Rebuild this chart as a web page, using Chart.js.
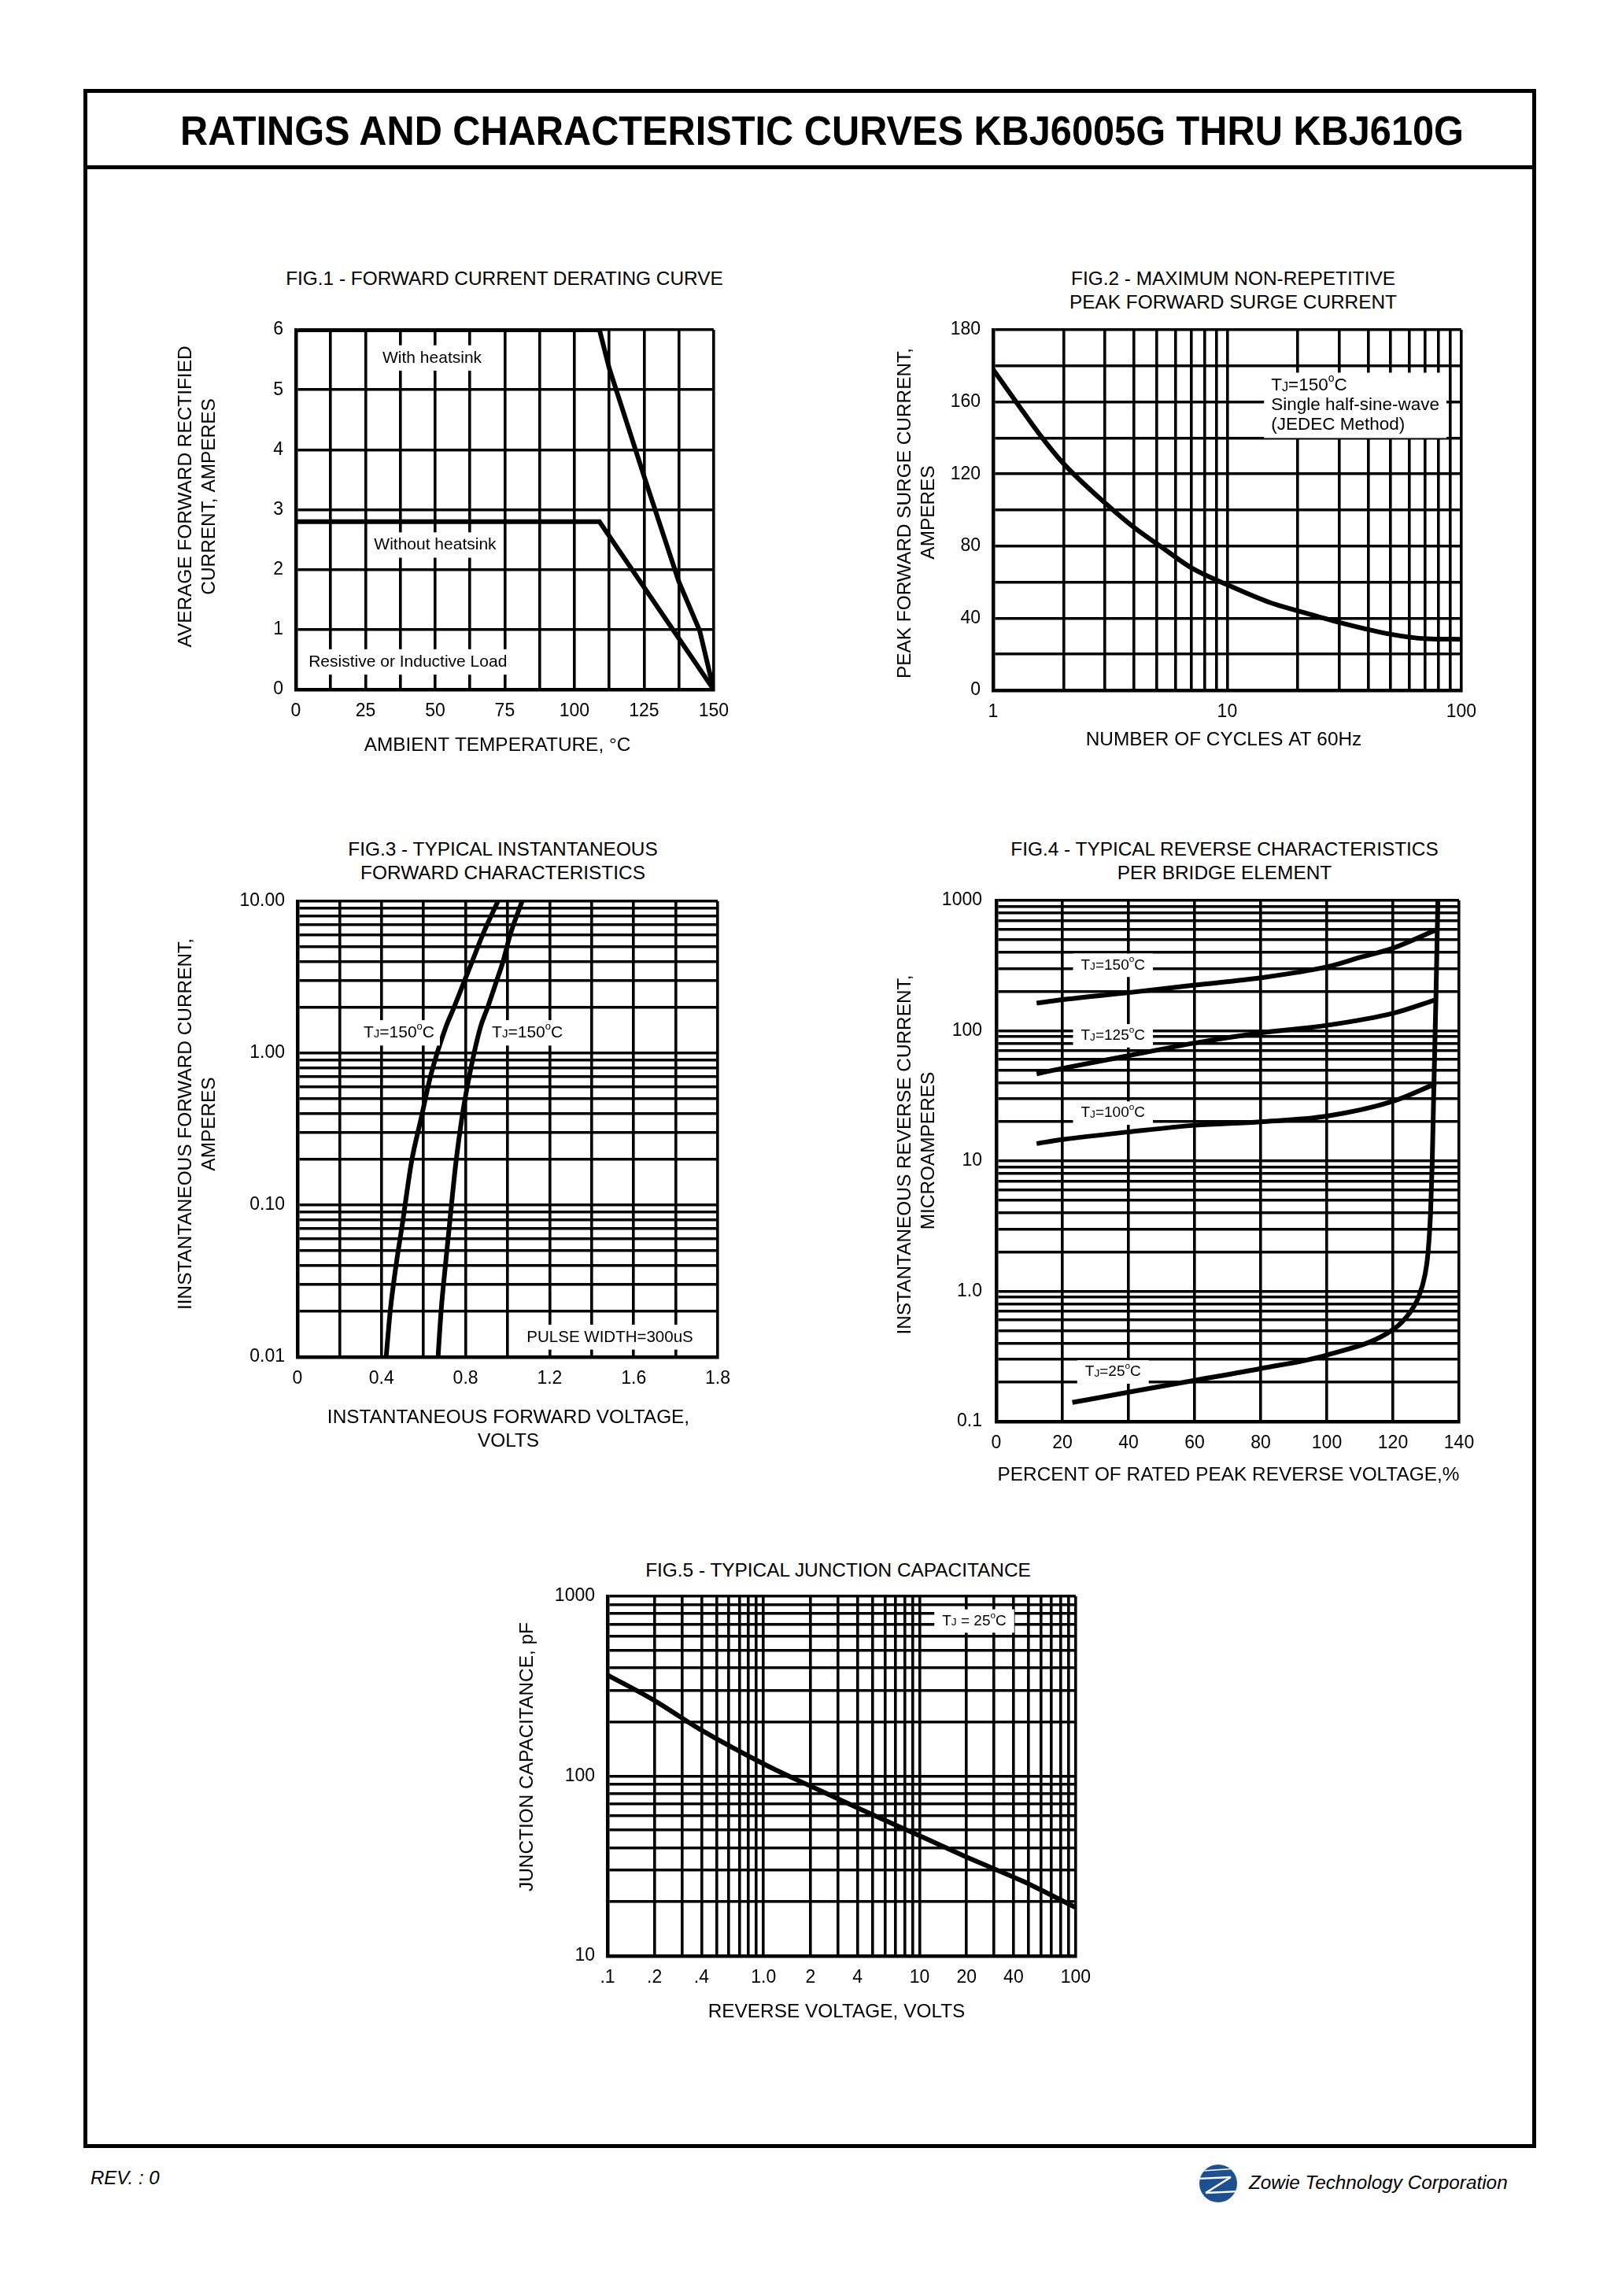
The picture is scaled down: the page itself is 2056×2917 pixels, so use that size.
<!DOCTYPE html>
<html>
<head>
<meta charset="utf-8">
<script src="https://cdn.jsdelivr.net/npm/chart.js@4.4.1/dist/chart.umd.min.js"></script>
<style>
html,body{margin:0;padding:0;background:#fff;}
body{width:2056px;height:2917px;position:relative;overflow:hidden;font-family:"Liberation Sans",Arial,Helvetica,sans-serif;color:#000;}
.abs{position:absolute;}
.frame{left:106px;top:113px;width:1846px;height:2616px;border:5px solid #000;box-sizing:border-box;}
.divider{left:106px;top:210px;width:1846px;height:5px;background:#000;}
.ftitle{font-size:24.4px;line-height:30px;text-align:center;white-space:nowrap;transform:translateX(-50%);}
#mainTitle{font-weight:bold;font-size:52px;line-height:60px;white-space:nowrap;transform-origin:0 50%;}
.foot{font-style:italic;white-space:nowrap;}
canvas{position:absolute;}
</style>
</head>
<body>
<div class="abs frame"></div>
<div class="abs divider"></div>
<div id="mainTitle" class="abs">RATINGS AND CHARACTERISTIC CURVES KBJ6005G THRU KBJ610G</div>

<div class="abs ftitle" style="left:641px;top:339px;">FIG.1 - FORWARD CURRENT DERATING CURVE</div>
<div class="abs ftitle" style="left:1567px;top:339px;">FIG.2 - MAXIMUM NON-REPETITIVE<br>PEAK FORWARD SURGE CURRENT</div>
<div class="abs ftitle" style="left:639px;top:1064px;">FIG.3 - TYPICAL INSTANTANEOUS<br>FORWARD CHARACTERISTICS</div>
<div class="abs ftitle" style="left:1556px;top:1064px;">FIG.4 - TYPICAL REVERSE CHARACTERISTICS<br>PER BRIDGE ELEMENT</div>
<div class="abs ftitle" style="left:1065px;top:1980px;">FIG.5 - TYPICAL JUNCTION CAPACITANCE</div>

<div class="abs foot" style="left:115px;top:2753px;font-size:24px;">REV. : 0</div>
<svg class="abs" style="left:1522px;top:2748px;" width="52" height="52" viewBox="-26 -26 52 52">
  <defs><clipPath id="lc"><circle cx="0" cy="0" r="24"/></clipPath></defs>
  <circle cx="0" cy="0" r="24" fill="#1d4f91"/>
  <g clip-path="url(#lc)" stroke="#fff" fill="none">
    <line x1="-20" y1="-16" x2="24" y2="-19" stroke-width="1.6"/>
    <line x1="-26" y1="-6" x2="16" y2="-8" stroke-width="2.4"/>
    <line x1="16" y1="-8" x2="-16" y2="12" stroke-width="2.6"/>
    <line x1="-16" y1="12" x2="26" y2="10" stroke-width="2.4"/>
  </g>
</svg>
<div class="abs foot" style="left:1587px;top:2759px;font-size:24.3px;">Zowie Technology Corporation</div>

<script>
// ---------------- DATA ----------------
// Fig.1 forward current derating
const fig1TempWith = [0, 109, 112.5, 125, 137.5, 145, 150];
const fig1AmpsWith = [6, 6, 5.36, 3.56, 1.8, 0.98, 0];
const fig1TempWithout = [0, 109, 150];
const fig1AmpsWithout = [2.8, 2.8, 0];
const fig1XTicks = [0, 12.5, 25, 37.5, 50, 62.5, 75, 87.5, 100, 112.5, 125, 137.5, 150];
const fig1XLabelVals = [0, 25, 50, 75, 100, 125, 150];
const fig1XLabelTexts = ['0', '25', '50', '75', '100', '125', '150'];
const fig1YTicks = [0, 1, 2, 3, 4, 5, 6];
const fig1YLabelVals = [0, 1, 2, 3, 4, 5, 6];
const fig1YLabelTexts = ['0', '1', '2', '3', '4', '5', '6'];

// Fig.2 peak forward surge current
const fig2Cycles = [1, 1.27, 1.6, 2, 3, 4, 5.25, 7.1, 10, 15.3, 20, 30, 48.5, 71, 100];
const fig2Surge = [178, 159, 141, 125.7, 104, 90.3, 79.4, 67.6, 58.6, 48.6, 44.1, 37.7, 31.4, 28.6, 28.3];
const fig2XTicks = [1, 2, 3, 4, 5, 6, 7, 8, 9, 10, 20, 30, 40, 50, 60, 70, 80, 90, 100];
const fig2XLabelVals = [1, 10, 100];
const fig2XLabelTexts = ['1', '10', '100'];
const fig2YTicks = [0, 20, 40, 60, 80, 100, 120, 140, 160, 180, 200];
const fig2YLabelVals = [0, 40, 80, 120, 160, 200];
const fig2YLabelTexts = ['0', '40', '80', '120', '160', '180'];

// Fig.3 forward characteristics
const fig3AmpsA = [0.01, 0.0204, 0.04, 0.078, 0.19, 0.37, 0.72, 1.47, 2, 3, 4, 6, 10];
const fig3VoltsA = [0.422, 0.442, 0.469, 0.501, 0.542, 0.588, 0.635, 0.705, 0.745, 0.795, 0.831, 0.881, 0.954];
const fig3AmpsB = [0.01, 0.0204, 0.04, 0.078, 0.19, 0.37, 0.72, 1.47, 2, 3, 4, 6, 10];
const fig3VoltsB = [0.669, 0.684, 0.704, 0.725, 0.754, 0.782, 0.819, 0.870, 0.905, 0.948, 0.978, 1.012, 1.069];
const fig3XTicks = [0, 0.2, 0.4, 0.6, 0.8, 1.0, 1.2, 1.4, 1.6, 1.8, 2.0];
const fig3XLabelVals = [0, 0.4, 0.8, 1.2, 1.6, 2.0];
const fig3XLabelTexts = ['0', '0.4', '0.8', '1.2', '1.6', '1.8'];
const fig3YTicks = [0.01, 0.02, 0.03, 0.04, 0.05, 0.06, 0.07, 0.08, 0.09,
                    0.1, 0.2, 0.3, 0.4, 0.5, 0.6, 0.7, 0.8, 0.9,
                    1, 2, 3, 4, 5, 6, 7, 8, 9, 10];
const fig3YLabelVals = [0.01, 0.1, 1, 10];
const fig3YLabelTexts = ['0.01', '0.10', '1.00', '10.00'];

// Fig.4 reverse characteristics
const fig4Pct150 = [12.2, 20, 40, 60, 80, 100, 110, 120, 133];
const fig4Ir150 = [163, 173, 196, 224, 255, 309, 365, 430, 593];
const fig4Pct125 = [12.2, 20, 40, 60, 80, 100, 120, 133];
const fig4Ir125 = [46.7, 51.4, 64.3, 80.5, 96.3, 110, 136, 173];
const fig4Pct100 = [12.2, 20, 40, 60, 80, 100, 120, 133];
const fig4Ir100 = [13.6, 14.6, 16.7, 18.8, 20.0, 22.1, 28.7, 39.3];
const fig4Pct25 = [23, 40, 60, 80, 100, 120, 125, 127.9, 129.7, 130.6, 131.4, 131.9, 132.4, 133, 133.6];
const fig4Ir25 = [0.14, 0.168, 0.207, 0.255, 0.324, 0.507, 0.68, 0.92, 1.34, 1.95, 4.1, 10, 38.7, 173, 1000];
const fig4XTicks = [0, 20, 40, 60, 80, 100, 120, 140];
const fig4XLabelVals = [0, 20, 40, 60, 80, 100, 120, 140];
const fig4XLabelTexts = ['0', '20', '40', '60', '80', '100', '120', '140'];
const fig4YTicks = [0.1, 0.2, 0.3, 0.4, 0.5, 0.6, 0.7, 0.8, 0.9,
                    1, 2, 3, 4, 5, 6, 7, 8, 9,
                    10, 20, 30, 40, 50, 60, 70, 80, 90,
                    100, 200, 300, 400, 500, 600, 700, 800, 900, 1000];
const fig4YLabelVals = [0.1, 1, 10, 100, 1000];
const fig4YLabelTexts = ['0.1', '1.0', '10', '100', '1000'];

// Fig.5 junction capacitance
const fig5Volts = [0.1, 0.2, 0.4, 1.06, 2.1, 4.2, 10, 21.5, 45.6, 100];
const fig5Cap = [365, 263, 180, 114, 86.3, 65.3, 46.6, 34.5, 26.1, 18.6];
const fig5XTicks = [0.1, 0.2, 0.3, 0.4, 0.5, 0.6, 0.7, 0.8, 0.9,
                    1, 2, 3, 4, 5, 6, 7, 8, 9,
                    10, 20, 30, 40, 50, 60, 70, 80, 90, 100];
const fig5XLabelVals = [0.1, 0.2, 0.4, 1, 2, 4, 10, 20, 40, 100];
const fig5XLabelTexts = ['.1', '.2', '.4', '1.0', '2', '4', '10', '20', '40', '100'];
const fig5YTicks = [10, 20, 30, 40, 50, 60, 70, 80, 90,
                    100, 200, 300, 400, 500, 600, 700, 800, 900, 1000];
const fig5YLabelVals = [10, 100, 1000];
const fig5YLabelTexts = ['10', '100', '1000'];

// ---------------- RENDERING ----------------
const FONT = '"Liberation Sans", Arial, Helvetica, sans-serif';
Chart.defaults.font.family = FONT;
Chart.defaults.font.size = 23;
Chart.defaults.color = '#000';

function labelFor(v, vals, texts) {
  for (let i = 0; i < vals.length; i++) {
    if (Math.abs(vals[i] - v) <= 1e-6 * Math.abs(vals[i]) + 1e-9) return texts[i];
  }
  return '';
}
function pts(xs, ys) { return xs.map((x, i) => ({x: x, y: ys[i]})); }

function makeAxis(o) {
  return {
    type: o.type, position: o.position, min: o.min, max: o.max,
    afterBuildTicks: s => { s.ticks = o.ticks.map(v => ({value: v})); },
    afterFit: s => { if (o.position === 'left') s.width = o.size; else s.height = o.size; },
    ticks: {autoSkip: false, maxRotation: 0, minRotation: 0, padding: o.pad, color: '#000',
            font: {size: 23}, callback: v => labelFor(v, o.labelVals, o.labelTexts)},
    grid: {color: '#000', lineWidth: 3.6, drawTicks: false},
    border: {color: '#000', width: 4.5},
    title: {display: false}
  };
}

function segFont(kind, size) {
  if (kind === 's') return (size * 0.72).toFixed(1) + 'px ' + FONT;
  if (kind === 'u') return (size * 0.62).toFixed(1) + 'px ' + FONT;
  return size + 'px ' + FONT;
}
function segWidth(ctx, seg, size) {
  ctx.font = segFont(seg[1], size);
  return ctx.measureText(seg[0]).width;
}
// annotations inside the plot + axis titles (page coordinates)
function labelPlugin(items, titles, box) {
  return {
    id: 'labels',
    afterDraw(chart) {
      const ctx = chart.ctx, xs = chart.scales.x, ys = chart.scales.y;
      items.forEach(it => {
        const px = xs.getPixelForValue(it.x), py = ys.getPixelForValue(it.y);
        const size = it.size || 20, lh = it.lh || size * 1.25;
        const widths = it.lines.map(l => l.reduce((a, s) => a + segWidth(ctx, s, size), 0));
        const maxW = Math.max.apply(null, widths);
        const n = it.lines.length;
        const left = it.align === 'left' ? px : px - maxW / 2;
        const top = py - lh / 2;
        const padX = it.padX != null ? it.padX : 7, padY = it.padY != null ? it.padY : 3;
        ctx.save();
        ctx.fillStyle = '#fff';
        ctx.fillRect(left - padX, top - padY, maxW + 2 * padX, n * lh + 2 * padY);
        ctx.fillStyle = '#000';
        ctx.textBaseline = 'middle';
        ctx.textAlign = 'left';
        it.lines.forEach((line, li) => {
          let x = it.align === 'left' ? px : px - widths[li] / 2;
          const yc = top + lh * li + lh / 2;
          line.forEach(s => {
            ctx.font = segFont(s[1], size);
            let yy = yc;
            if (s[1] === 's') yy = yc + size * 0.1;
            if (s[1] === 'u') yy = yc - size * 0.38;
            ctx.fillText(s[0], x, yy);
            x += ctx.measureText(s[0]).width;
          });
        });
        ctx.restore();
      });
      titles.forEach(t => {
        ctx.save();
        ctx.fillStyle = '#000';
        ctx.font = '24.4px ' + FONT;
        ctx.textAlign = 'center';
        ctx.textBaseline = 'middle';
        ctx.translate(t.x - box.x, t.y - box.y);
        if (t.r) ctx.rotate(-Math.PI / 2);
        ctx.fillText(t.t, 0, 0);
        ctx.restore();
      });
    }
  };
}

function makeChart(box, plot, datasets, xAxis, yAxis, annotations, titles) {
  const c = document.createElement('canvas');
  c.width = box.w; c.height = box.h;
  c.style.left = box.x + 'px'; c.style.top = box.y + 'px';
  c.style.width = box.w + 'px'; c.style.height = box.h + 'px';
  document.body.appendChild(c);
  xAxis.size = box.y + box.h - plot.b;
  yAxis.size = plot.l - box.x;
  xAxis.position = 'bottom'; yAxis.position = 'left';
  const chart = new Chart(c, {
    type: 'line',
    data: {datasets: datasets.map(d => Object.assign({
      borderColor: '#000', borderWidth: 6, pointRadius: 0, fill: false, tension: 0
    }, d))},
    options: {
      responsive: false, animation: false, devicePixelRatio: 1,
      layout: {padding: {left: 0, top: plot.t - box.y, right: box.x + box.w - plot.r, bottom: 0}},
      plugins: {legend: {display: false}, tooltip: {enabled: false}, title: {display: false}},
      scales: {x: makeAxis(xAxis), y: makeAxis(yAxis)}
    },
    plugins: [labelPlugin(annotations, titles, box)]
  });
  // correct the plot area so that it lands exactly on the wanted rectangle
  for (let k = 0; k < 3; k++) {
    const ca = chart.chartArea;
    const dT = ca.top - (plot.t - box.y);
    const dR = (plot.r - box.x) - ca.right;
    if (Math.abs(dT) < 0.5 && Math.abs(dR) < 0.5) break;
    const p = chart.options.layout.padding;
    p.top = p.top - dT;
    p.right = p.right - dR;
    chart.update('none');
  }
  return chart;
}

const TJ = t => [['T', 'n'], ['J', 's'], [t, 'n'], ['o', 'u'], ['C', 'n']];

// Fig.1
makeChart({x: 221, y: 380, w: 719, h: 582}, {l: 376, t: 419, r: 909, b: 876},
  [{data: pts(fig1TempWith, fig1AmpsWith)}, {data: pts(fig1TempWithout, fig1AmpsWithout)}],
  {type: 'linear', min: 0, max: 150, ticks: fig1XTicks, labelVals: fig1XLabelVals, labelTexts: fig1XLabelTexts, pad: 14},
  {type: 'linear', min: 0, max: 6, ticks: fig1YTicks, labelVals: fig1YLabelVals, labelTexts: fig1YLabelTexts, pad: 16},
  [{x: 48.9, y: 5.53, size: 21, lines: [[['With heatsink', 'n']]]},
   {x: 50, y: 2.41, size: 21, lines: [[['Without heatsink', 'n']]]},
   {x: 40.2, y: 0.46, size: 21, lines: [[['Resistive or Inductive Load', 'n']]]}],
  [{t: 'AVERAGE FORWARD RECTIFIED', x: 236, y: 631, r: 1},
   {t: 'CURRENT, AMPERES', x: 266, y: 631, r: 1},
   {t: 'AMBIENT TEMPERATURE, \u00B0C', x: 632, y: 947}]);

// Fig.2
makeChart({x: 1133, y: 380, w: 757, h: 575}, {l: 1262, t: 419, r: 1859, b: 877},
  [{data: pts(fig2Cycles, fig2Surge), cubicInterpolationMode: 'monotone'}],
  {type: 'logarithmic', min: 1, max: 100, ticks: fig2XTicks, labelVals: fig2XLabelVals, labelTexts: fig2XLabelTexts, pad: 14},
  {type: 'linear', min: 0, max: 200, ticks: fig2YTicks, labelVals: fig2YLabelVals, labelTexts: fig2YLabelTexts, pad: 16},
  [{x: 15.4, y: 169, align: 'left', size: 22.5, lh: 25, padX: 9, padY: 4,
    lines: [TJ('=150'), [['Single half-sine-wave', 'n']], [['(JEDEC Method)', 'n']]]}],
  [{t: 'PEAK FORWARD SURGE CURRENT,', x: 1150, y: 652, r: 1},
   {t: 'AMPERES', x: 1180, y: 651, r: 1},
   {t: 'NUMBER OF CYCLES AT 60Hz', x: 1555, y: 940}]);

// Fig.3
makeChart({x: 221, y: 1105, w: 724, h: 741}, {l: 378, t: 1145, r: 912, b: 1724},
  [{data: pts(fig3VoltsA, fig3AmpsA), cubicInterpolationMode: 'monotone'},
   {data: pts(fig3VoltsB, fig3AmpsB), cubicInterpolationMode: 'monotone'}],
  {type: 'linear', min: 0, max: 2.0, ticks: fig3XTicks, labelVals: fig3XLabelVals, labelTexts: fig3XLabelTexts, pad: 14},
  {type: 'logarithmic', min: 0.01, max: 10, ticks: fig3YTicks, labelVals: fig3YLabelVals, labelTexts: fig3YLabelTexts, pad: 16},
  [{x: 0.483, y: 1.36, size: 21, lines: [TJ('=150')]},
   {x: 1.094, y: 1.36, size: 21, lines: [TJ('=150')]},
   {x: 1.487, y: 0.0135, size: 20.5, lines: [[['PULSE WIDTH=300uS', 'n']]]}],
  [{t: 'IINSTANTANEOUS FORWARD CURRENT,', x: 236, y: 1428, r: 1},
   {t: 'AMPERES', x: 266, y: 1428, r: 1},
   {t: 'INSTANTANEOUS FORWARD VOLTAGE,', x: 646, y: 1801},
   {t: 'VOLTS', x: 646, y: 1831}]);

// Fig.4
makeChart({x: 1135, y: 1105, w: 755, h: 784}, {l: 1266, t: 1144, r: 1854, b: 1806},
  [{data: pts(fig4Pct150, fig4Ir150), cubicInterpolationMode: 'monotone'},
   {data: pts(fig4Pct125, fig4Ir125), cubicInterpolationMode: 'monotone'},
   {data: pts(fig4Pct100, fig4Ir100), cubicInterpolationMode: 'monotone'},
   {data: pts(fig4Pct25, fig4Ir25), cubicInterpolationMode: 'monotone'}],
  {type: 'linear', min: 0, max: 140, ticks: fig4XTicks, labelVals: fig4XLabelVals, labelTexts: fig4XLabelTexts, pad: 14},
  {type: 'logarithmic', min: 0.1, max: 1000, ticks: fig4YTicks, labelVals: fig4YLabelVals, labelTexts: fig4YLabelTexts, pad: 18},
  [{x: 35.3, y: 318, size: 19, padX: 10, lines: [TJ('=150')]},
   {x: 35.3, y: 91.4, size: 19, padX: 10, lines: [TJ('=125')]},
   {x: 35.3, y: 23.3, size: 19, padX: 10, lines: [TJ('=100')]},
   {x: 35.3, y: 0.24, size: 19, padX: 10, lines: [TJ('=25')]}],
  [{t: 'INSTANTANEOUS REVERSE CURRENT,', x: 1150, y: 1467, r: 1},
   {t: 'MICROAMPERES', x: 1180, y: 1462, r: 1},
   {t: 'PERCENT OF RATED PEAK REVERSE VOLTAGE,%', x: 1561, y: 1874}]);

// Fig.5
makeChart({x: 655, y: 1988, w: 745, h: 583}, {l: 772, t: 2028, r: 1367, b: 2485},
  [{data: pts(fig5Volts, fig5Cap), cubicInterpolationMode: 'monotone'}],
  {type: 'logarithmic', min: 0.1, max: 100, ticks: fig5XTicks, labelVals: fig5XLabelVals, labelTexts: fig5XLabelTexts, pad: 14},
  {type: 'logarithmic', min: 10, max: 1000, ticks: fig5YTicks, labelVals: fig5YLabelVals, labelTexts: fig5YLabelTexts, pad: 16},
  [{x: 22.4, y: 728, size: 19, padX: 10, lines: [[['T', 'n'], ['J', 's'], [' = 25', 'n'], ['o', 'u'], ['C', 'n']]]}],
  [{t: 'JUNCTION CAPACITANCE, pF', x: 670, y: 2232, r: 1},
   {t: 'REVERSE VOLTAGE, VOLTS', x: 1063, y: 2556}]);

// main title fit
(function () {
  const t = document.getElementById('mainTitle');
  const w = t.getBoundingClientRect().width;
  const target = 1631;
  t.style.left = '229px';
  t.style.top = (166 - 30) + 'px';
  t.style.transform = 'scaleX(' + (target / w) + ')';
})();
</script>
</body>
</html>
